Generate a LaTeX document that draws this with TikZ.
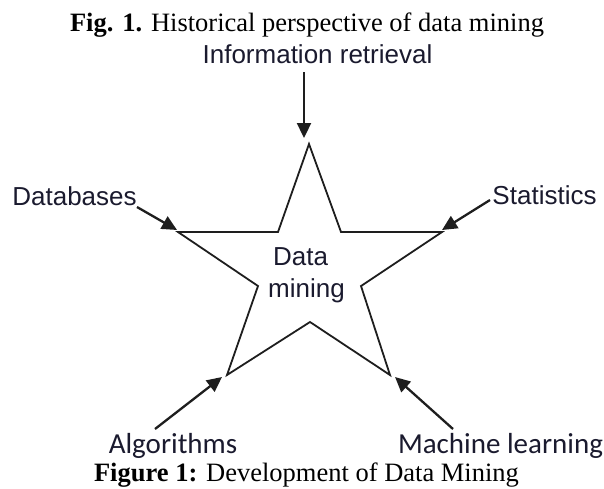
\documentclass[tikz,border=0pt]{standalone}
\usepackage{fontspec}
\setmainfont{Liberation Serif}
\newfontfamily\arialf{Liberation Sans}
\newfontfamily\calibrif{Carlito}
\usetikzlibrary{arrows.meta}
\definecolor{inkc}{HTML}{1E1E1E}
\definecolor{labc}{HTML}{1A1A2E}
\begin{document}
\begin{tikzpicture}[x=1pt,y=-1pt,
  serifl/.style={inner sep=0pt,anchor=base,text=black,font=\fontsize{26.5}{31}\selectfont},
  arl/.style={inner sep=0pt,anchor=base,text=labc,font=\arialf\fontsize{26}{31}\selectfont},
  cal/.style={inner sep=0pt,anchor=base,text=labc,font=\calibrif\fontsize{29}{34}\selectfont},
  starline/.style={draw=inkc,line width=1.8pt,line join=miter},
  feed/.style={draw=inkc,line width=2.3pt,-{Triangle[length=15pt,width=14pt]}}]
\useasboundingbox (0,0) rectangle (604,488);
% texts
\node[serifl] (title) at (307,31) {\textbf{Fig. 1.} Historical perspective of data mining};
\node[arl] (ir) at (317.5,63) {Information retrieval};
\node[arl] (db) at (74.5,205) {Databases};
\node[arl] (st) at (544.5,204) {Statistics};
\node[arl] (dm1) at (300.5,265) {Data};
\node[arl] (dm2) at (306.5,297) {mining};
\node[cal] (alg) at (173,453) {Algorithms};
\node[cal] (ml) at (500.5,453) {Machine learning};
\node[serifl] (cap) at (306.5,481.5) {\textbf{Figure 1:} Development of Data Mining};
% star
\coordinate (tT) at (309,144);
\coordinate (iUL) at (278,232);
\coordinate (tL) at (178,232);
\coordinate (iLL) at (258,286);
\coordinate (tBL) at (227,375);
\coordinate (iB) at (310,322);
\coordinate (tBR) at (390,375);
\coordinate (iLR) at (361,286);
\coordinate (tR) at (442,232);
\coordinate (iUR) at (341,232);
\draw[starline] (tT) -- (iUL) -- (tL) -- (iLL) -- (tBL) -- (iB) -- (tBR) -- (iLR) -- (tR) -- (iUR) -- cycle;
% arrow starts and ends
\coordinate (irS) at (304,72);
\coordinate (irE) at (304,138);
\coordinate (dbS) at (137,207);
\coordinate (dbE) at (177,230);
\coordinate (stS) at (490,200);
\coordinate (stE) at (442,230);
\coordinate (algS) at (155,429);
\coordinate (algE) at (222,377);
\coordinate (mlS) at (453,429);
\coordinate (mlE) at (395,377);
\draw[feed] (irS) -- (irE);
\draw[feed] (dbS) -- (dbE);
\draw[feed] (stS) -- (stE);
\draw[feed] (algS) -- (algE);
\draw[feed] (mlS) -- (mlE);
\end{tikzpicture}
\end{document}
